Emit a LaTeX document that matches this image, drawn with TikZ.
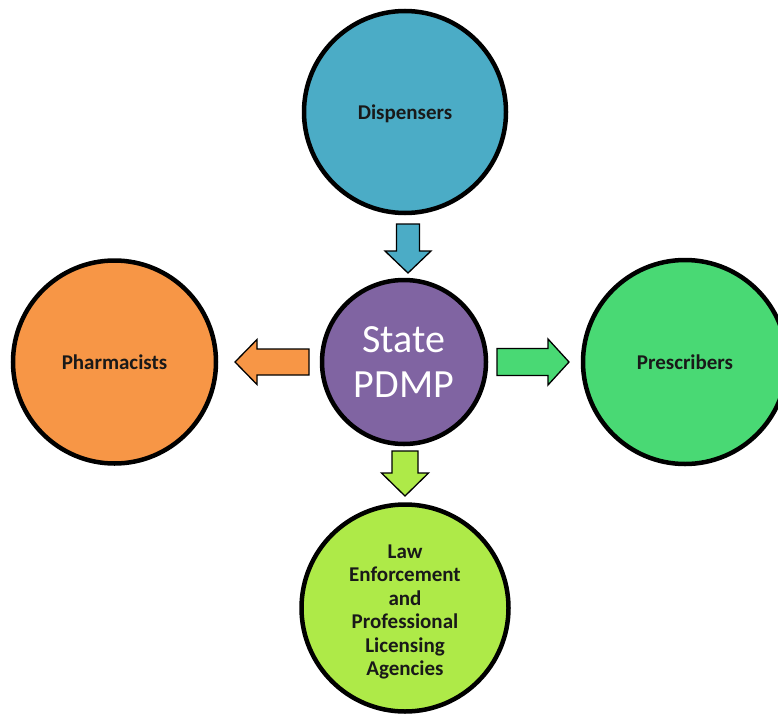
\documentclass[tikz,border=0pt]{standalone}
\usepackage{fontspec}
\setmainfont{Carlito}
\definecolor{cdisp}{HTML}{4BACC6}
\definecolor{cpharm}{HTML}{F79646}
\definecolor{cpresc}{HTML}{49D974}
\definecolor{claw}{HTML}{AEEA48}
\definecolor{cpdmp}{HTML}{8064A2}
\tikzset{
  bubble/.style={circle, draw=black, line width=4.5pt, inner sep=0pt, align=center,
    font=\fontsize{21}{23.5}\selectfont\bfseries, text=black!90},
  blockarrow/.style={draw=black, line width=1.3pt, line join=miter},
}
\begin{document}
\begin{tikzpicture}[x=1pt,y=-1pt]
\clip (0,0) rectangle (778,717);
\fill[white] (0,0) rectangle (778,717);
\node[bubble, fill=cdisp, minimum size=202pt] (disp) at (405,112) {};
\node[bubble, fill=cpharm, minimum size=203pt] (pharm) at (114.5,362) {};
\node[bubble, fill=cpresc, minimum size=204pt] (presc) at (685,362) {};
\node[bubble, fill=claw, minimum size=207pt] (law) at (405,608) {};
\node[bubble, draw=none, fill=none] (dispt) at (405,114) {Dispensers};
\node[bubble, draw=none, fill=none] (pharmt) at (114.5,362) {Pharmacists};
\node[bubble, draw=none, fill=none] (presct) at (685,362) {Prescribers};
\node[bubble, draw=none, fill=none] (lawt) at (405,612) {Law\\Enforcement\\and\\Professional\\Licensing\\Agencies};
\node[circle, draw=black, line width=4.5pt, fill=cpdmp, minimum size=164pt, inner sep=0pt,
  align=center, text=white, font=\fontsize{40}{45}\selectfont] (pdmp) at (404,362) {State\\PDMP};
% arrows
\coordinate (a1) at (408,248.5);
\coordinate (a2) at (272,362);
\coordinate (a3) at (533,362);
\coordinate (a4) at (405,473.5);
\draw[blockarrow, fill=cdisp, shift={(a1)}]
  (-11.5,-24.5) -- (11.5,-24.5) -- (11.5,2.5) -- (23,2.5) -- (0,24.5) -- (-23,2.5) -- (-11.5,2.5) -- cycle;
\draw[blockarrow, fill=cpharm, shift={(a2)}]
  (37,-13) -- (37,13) -- (-15,13) -- (-15,22.5) -- (-37,0) -- (-15,-22.5) -- (-15,-13) -- cycle;
\draw[blockarrow, fill=cpresc, shift={(a3)}]
  (-36,-13.5) -- (15,-13.5) -- (15,-23) -- (36,0) -- (15,23) -- (15,13.5) -- (-36,13.5) -- cycle;
\draw[blockarrow, fill=claw, shift={(a4)}]
  (-13,-22.5) -- (13,-22.5) -- (13,-0.5) -- (23.5,-0.5) -- (0,22.5) -- (-23.5,-0.5) -- (-13,-0.5) -- cycle;
\end{tikzpicture}
\end{document}
